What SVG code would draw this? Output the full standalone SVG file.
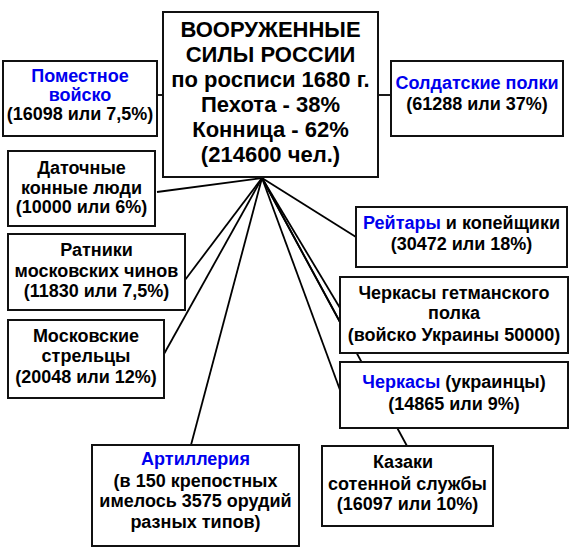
<svg xmlns="http://www.w3.org/2000/svg" width="577" height="554" viewBox="0 0 577 554">
<style>
.box{fill:#fff;stroke:#111;stroke-width:2}
.t{font-family:"Liberation Sans",Arial,sans-serif;font-weight:bold;font-size:18px;fill:#000;text-anchor:middle}
.c{font-size:22px}
.b{fill:#0000ee}
.ln{stroke:#000;stroke-width:1.8;fill:none}
</style>
<rect width="577" height="554" fill="#fff"/>
<g id="connectors">
<line class="ln" x1="157" y1="95" x2="163" y2="95"/>
<line class="ln" x1="378" y1="95" x2="391" y2="95"/>
<line class="ln" x1="262" y1="178" x2="157" y2="192"/>
<line class="ln" x1="262" y1="178" x2="185" y2="280"/>
<line class="ln" x1="262" y1="178" x2="164" y2="354"/>
<line class="ln" x1="262" y1="178" x2="191" y2="445"/>
<line class="ln" x1="262" y1="178" x2="356" y2="237"/>
<line class="ln" x1="262" y1="178" x2="340" y2="308"/>
<line class="ln" x1="262" y1="178" x2="340" y2="322"/>
<line class="ln" x1="262" y1="178" x2="340" y2="390"/>
<line class="ln" x1="262" y1="178" x2="407" y2="446"/>
</g>
<g id="center">
<rect class="box" x="163" y="12" width="215" height="165"/>
<text class="t c" x="270.5" y="37">ВООРУЖЕННЫЕ</text>
<text class="t c" x="270.5" y="62">СИЛЫ РОССИИ</text>
<text class="t c" x="270.5" y="87">по росписи 1680 г.</text>
<text class="t c" x="270.5" y="112">Пехота - 38%</text>
<text class="t c" x="270.5" y="137">Конница - 62%</text>
<text class="t c" x="270.5" y="162">(214600 чел.)</text>
</g>
<g id="pomestnoe">
<rect class="box" x="3" y="61" width="154" height="75"/>
<text class="t b" x="80" y="82">Поместное</text>
<text class="t b" x="80" y="101">войско</text>
<text class="t" x="80" y="120">(16098 или 7,5%)</text>
</g>
<g id="soldatskie">
<rect class="box" x="391" y="61" width="172" height="75"/>
<text class="t b" x="477" y="89">Солдатские полки</text>
<text class="t" x="477" y="110">(61288 или 37%)</text>
</g>
<g id="datochnye">
<rect class="box" x="8" y="151" width="147" height="75"/>
<text class="t" x="81.5" y="174">Даточные</text>
<text class="t" x="81.5" y="193.5">конные люди</text>
<text class="t" x="81.5" y="213">(10000 или 6%)</text>
</g>
<g id="ratniki">
<rect class="box" x="8" y="234" width="177" height="76"/>
<text class="t" x="96.5" y="256">Ратники</text>
<text class="t" x="96.5" y="277">московских чинов</text>
<text class="t" x="96.5" y="297">(11830 или 7,5%)</text>
</g>
<g id="streltsy">
<rect class="box" x="8" y="320" width="156" height="78"/>
<text class="t" x="86" y="342">Московские</text>
<text class="t" x="86" y="362">стрельцы</text>
<text class="t" x="86" y="383">(20048 или 12%)</text>
</g>
<g id="reitary">
<rect class="box" x="356" y="207" width="211" height="60"/>
<text class="t" x="461.5" y="229"><tspan class="b">Рейтары</tspan> и копейщики</text>
<text class="t" x="461.5" y="250">(30472 или 18%)</text>
</g>
<g id="cherkasy-getman">
<rect class="box" x="340" y="277" width="228" height="76"/>
<text class="t" x="454" y="299">Черкасы гетманского</text>
<text class="t" x="454" y="319">полка</text>
<text class="t" x="454" y="341">(войско Украины 50000)</text>
</g>
<g id="cherkasy">
<rect class="box" x="340" y="362" width="228" height="66"/>
<text class="t" x="454" y="388"><tspan class="b">Черкасы</tspan> (украинцы)</text>
<text class="t" x="454" y="410">(14865 или 9%)</text>
</g>
<g id="artilleria">
<rect class="box" x="92" y="445" width="207" height="101"/>
<text class="t b" x="195.5" y="465">Артиллерия</text>
<text class="t" x="195.5" y="487">(в 150 крепостных</text>
<text class="t" x="195.5" y="507">имелось 3575 орудий</text>
<text class="t" x="195.5" y="528">разных типов)</text>
</g>
<g id="kazaki">
<rect class="box" x="322" y="446" width="171" height="80"/>
<text class="t" x="403" y="468">Казаки</text>
<text class="t" x="407.5" y="490">сотенной службы</text>
<text class="t" x="407.5" y="510">(16097 или 10%)</text>
</g>
</svg>
